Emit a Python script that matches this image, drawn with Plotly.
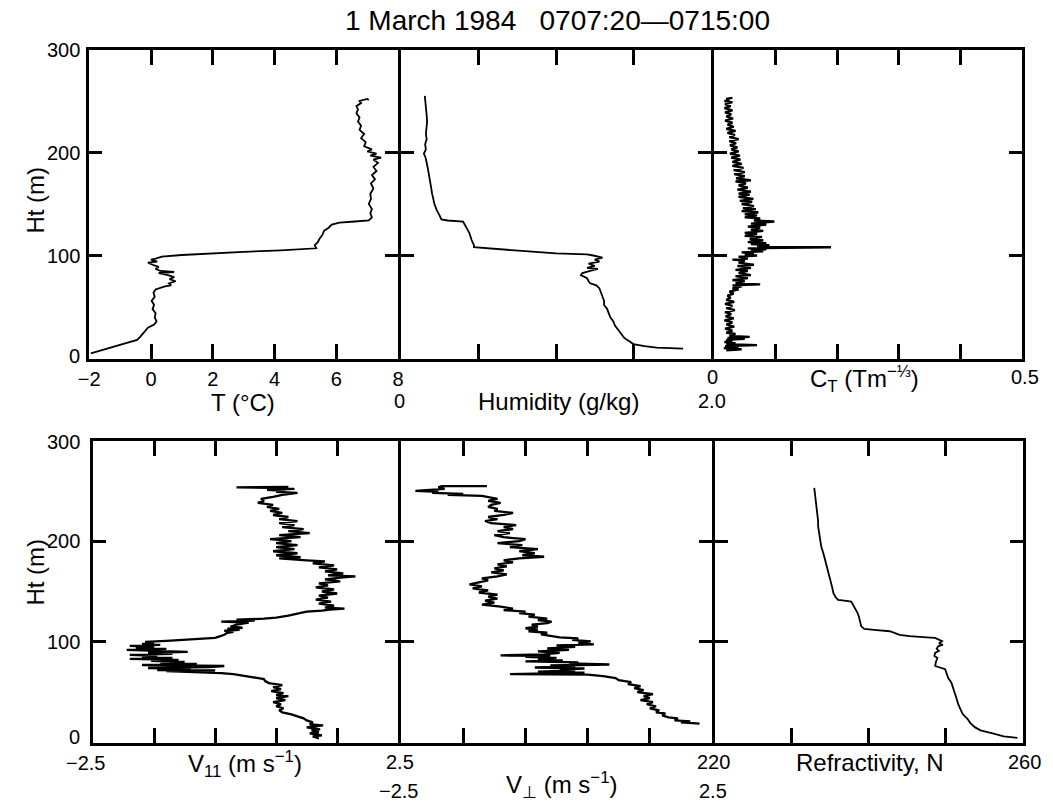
import plotly.graph_objects as go

TITLE = "1 March 1984\u00a0\u00a0\u00a00707:20\u20140715:00"
FONT = "Liberation Sans, Arial, Helvetica, sans-serif"

# ---------------- data ----------------
temp_ht = [5, 8, 11, 15, 18, 21, 25, 30, 33, 36,
           40, 44, 48, 52, 56, 60, 64, 67, 70, 71,
           73, 75, 77, 79, 81, 83, 84, 85, 87, 89,
           91, 93, 94, 96, 97, 99, 100.5, 102, 103.5, 105,
           106, 107, 110, 113, 116, 120, 124, 127, 130, 132,
           133, 134, 137, 141, 145, 150, 155, 160, 165, 170,
           174, 178, 182, 186, 190, 193, 195, 197, 199, 201,
           203, 206, 210, 214, 218, 222, 226, 230, 234, 238,
           242, 245, 248, 250, 252, 251]
temp_c = [-1.95, -1.6, -1.2, -0.8, -0.45, -0.35, -0.25, -0.1, 0.1, 0.18,
          0.12, 0.15, 0.05, 0.1, 0.02, 0.12, 0.08, 0.15, 0.45, 0.65,
          0.58, 0.8, 0.6, 0.75, 0.55, 0.25, 0.75, 0.3, 0.15, 0.25,
          0.05, -0.1, 0.2, 0.0, 0.15, 0.35, 1.0, 1.9, 3.0, 4.2,
          5.0, 5.35, 5.3, 5.4, 5.45, 5.55, 5.6, 5.75, 5.85, 6.1,
          6.6, 7.05, 7.15, 7.1, 7.15, 7.05, 7.12, 7.1, 7.2, 7.12,
          7.25, 7.15, 7.3, 7.2, 7.35, 7.2, 7.45, 7.1, 7.3, 7.0,
          7.15, 6.9, 6.95, 6.8, 6.9, 6.75, 6.8, 6.7, 6.75, 6.65,
          6.7, 6.65, 6.8, 6.75, 7.0, 7.05]

hum_ht = [9.6, 10.5, 12, 14, 17, 20, 24, 28, 32, 36,
          40, 44, 48, 52, 56, 60, 64, 68, 71, 73,
          75, 78, 81, 83, 85, 87, 88, 90, 92, 94,
          96, 98, 100, 101, 102, 103.5, 105, 106.5, 108, 110,
          115, 122, 128, 133, 134, 135, 140, 144, 150, 155,
          160, 165, 170, 175, 180, 185, 190, 195, 199, 203,
          208, 213, 218, 224, 230, 236, 242, 248, 252, 255]
hum_q = [1.82, 1.65, 1.57, 1.5, 1.47, 1.44, 1.42, 1.4, 1.38, 1.37,
         1.35, 1.34, 1.33, 1.31, 1.31, 1.3, 1.29, 1.28, 1.26, 1.22,
         1.21, 1.2, 1.16, 1.17, 1.22, 1.27, 1.2, 1.25, 1.21, 1.28,
         1.25, 1.3, 1.24, 1.2, 1.0, 0.85, 0.7, 0.55, 0.47, 0.47,
         0.455, 0.44, 0.42, 0.4, 0.3, 0.26, 0.245, 0.23, 0.215, 0.205,
         0.2, 0.195, 0.19, 0.185, 0.179, 0.172, 0.165, 0.158, 0.147, 0.16,
         0.155, 0.165, 0.16, 0.165, 0.168, 0.165, 0.16, 0.158, 0.155, 0.153]

ct_ht = [8, 9, 10, 11, 12, 13, 14, 15, 16, 17,
         18, 19, 20, 21, 22, 24, 25, 27, 29, 31,
         33, 35, 37, 39, 41, 43, 45, 47, 49, 51,
         53, 55, 57, 59, 61, 63, 65, 67, 68, 70,
         71, 72, 73, 75, 76, 78, 80, 81, 83, 85,
         86, 88, 90, 91, 93, 95, 96, 97, 99, 100,
         101, 102, 103, 104, 105, 106, 107, 108, 108.5, 110,
         111, 112, 113, 115, 116, 118, 119, 121, 122, 124,
         125, 127, 128, 130, 131, 133, 134, 136, 137, 139,
         140, 142, 143, 145, 146, 148, 150, 152, 153, 155,
         157, 159, 160, 162, 164, 166, 168, 170, 172, 173,
         175, 177, 179, 181, 183, 185, 187, 189, 191, 193,
         195, 197, 199, 201, 203, 205, 207, 209, 211, 213,
         215, 217, 219, 221, 223, 225, 227, 229, 231, 233,
         235, 237, 239, 241, 243, 245, 247, 249, 250, 251,
         252, 253]
ct_val = [0.02, 0.045, 0.016, 0.04, 0.018, 0.07, 0.02, 0.035, 0.017, 0.03,
          0.02, 0.05, 0.022, 0.058, 0.025, 0.035, 0.02, 0.03, 0.018, 0.033,
          0.02, 0.03, 0.017, 0.032, 0.019, 0.028, 0.018, 0.034, 0.02, 0.03,
          0.018, 0.033, 0.02, 0.027, 0.022, 0.032, 0.025, 0.04, 0.03, 0.045,
          0.03, 0.075, 0.035, 0.05, 0.03, 0.055, 0.035, 0.06, 0.04, 0.055,
          0.035, 0.06, 0.038, 0.065, 0.04, 0.05, 0.03, 0.055, 0.04, 0.07,
          0.05, 0.065, 0.045, 0.08, 0.06, 0.085, 0.055, 0.19, 0.07, 0.09,
          0.06, 0.085, 0.055, 0.08, 0.058, 0.078, 0.05, 0.07, 0.05, 0.08,
          0.06, 0.075, 0.055, 0.085, 0.06, 0.098, 0.065, 0.075, 0.05, 0.07,
          0.05, 0.072, 0.045, 0.068, 0.047, 0.065, 0.045, 0.062, 0.042, 0.064,
          0.04, 0.058, 0.04, 0.06, 0.038, 0.055, 0.04, 0.052, 0.035, 0.06,
          0.036, 0.05, 0.033, 0.05, 0.032, 0.048, 0.03, 0.045, 0.03, 0.043,
          0.028, 0.042, 0.026, 0.04, 0.028, 0.038, 0.026, 0.036, 0.025, 0.04,
          0.025, 0.034, 0.022, 0.035, 0.02, 0.032, 0.022, 0.03, 0.018, 0.031,
          0.02, 0.028, 0.018, 0.03, 0.017, 0.027, 0.018, 0.03, 0.017, 0.025,
          0.02, 0.03]

vpar_ht = [4, 6, 7, 9, 10, 12, 13, 15, 17, 18,
           20, 22, 24, 26, 28, 30, 32, 34, 36, 38,
           40, 42, 44, 46, 47, 49, 51, 53, 55, 57,
           59, 61, 63, 65, 66, 68, 69, 70, 71, 71.5,
           72, 73, 74, 75, 76, 76.5, 77, 78, 79, 80,
           81, 82, 83, 84, 85, 86, 87, 88, 89, 90,
           91, 92, 93, 94, 95, 96, 97, 98, 99, 100,
           101, 102, 103, 104, 105, 107, 109, 110, 111, 112,
           113, 114, 115, 117, 119, 120, 121, 122, 123, 124,
           126, 128, 130, 131, 132, 133, 134, 136, 138, 140,
           142, 144, 146, 148, 150, 152, 154, 156, 158, 160,
           162, 164, 165, 166, 168, 170, 172, 174, 176, 178,
           180, 181, 183, 184, 186, 188, 190, 192, 194, 196,
           198, 200, 202, 204, 206, 208, 210, 212, 214, 216,
           218, 220, 222, 224, 226, 228, 230, 232, 234, 236,
           238, 240, 242, 244, 246, 248, 249, 250, 251, 252,
           253, 253.5, 254]
vpar_v = [1.2, 1.1, 1.25, 1.05, 1.2, 1.08, 1.22, 1.0, 1.27, 1.05,
          1.1, 1.0, 0.95, 0.85, 0.75, 0.6, 0.55, 0.62, 0.5, 0.58,
          0.45, 0.65, 0.5, 0.7, 0.5, 0.62, 0.42, 0.58, 0.45, 0.6,
          0.38, 0.32, 0.3, 0.1, 0.0, -0.2, -0.4, -0.8, -1.3, -0.5,
          -1.45, -0.9, -1.6, -0.6, -0.35, -1.2, -1.7, -0.8, -1.4, -1.0,
          -1.55, -1.1, -1.9, -1.2, -1.7, -1.45, -1.9, -1.2, -1.6, -0.95,
          -1.5, -1.95, -1.3, -1.8, -1.5, -1.9, -1.4, -1.7, -1.5, -1.65,
          -1.3, -1.05, -0.8, -0.5, -0.45, -0.35, -0.3, -0.2, -0.35, -0.1,
          -0.3, -0.05, -0.25, -0.15, 0.05, -0.4, 0.15, -0.15, 0.3, 0.5,
          0.7, 0.85, 1.0, 1.25, 1.38, 1.62, 1.3, 1.45, 1.2, 1.4,
          1.15, 1.35, 1.2, 1.5, 1.25, 1.45, 1.15, 1.35, 1.2, 1.55,
          1.3, 1.6, 1.8, 1.35, 1.6, 1.3, 1.5, 1.2, 1.45, 1.1,
          1.3, 1.0, 0.55, 0.9, 0.5, 0.85, 0.45, 0.8, 0.5, 0.85,
          0.5, 0.75, 0.4, 0.9, 0.55, 1.05, 0.7, 0.95, 0.6, 0.8,
          0.55, 0.85, 0.55, 0.7, 0.45, 0.6, 0.4, 0.55, 0.35, 0.45,
          0.2, 0.3, 0.25, 0.45, 0.6, 0.85, 0.5, 0.65, 0.35, 0.8,
          0.4, -0.15, 0.7]

vperp_ht = [18.7, 20, 21, 22, 24, 25, 27, 29, 30, 32,
            34, 36, 38, 40, 42, 44, 46, 48, 50, 52,
            54, 56, 58, 60, 62, 64, 66, 67.5, 68, 68.5,
            69.5, 70.5, 71.5, 72.5, 73.5, 74.5, 75.5, 76.5, 77.5, 78.5,
            79.5, 80.5, 81.5, 82.5, 84, 85, 86, 86.5, 87.5, 89,
            90.5, 92, 93.5, 95, 96.5, 97.5, 99, 100.5, 102, 103.5,
            104.5, 106, 107.5, 109, 110.5, 112, 113.5, 115, 117, 118.5,
            120, 121.5, 123, 125, 127, 128.5, 130, 131.5, 133, 135,
            137, 139, 141, 143, 145, 147, 149, 151, 153, 155,
            157, 159, 161, 163, 165, 167, 169, 171, 173, 175,
            177, 179, 181, 183, 184.5, 186, 188, 190, 192, 194,
            196, 198, 200, 202, 204, 206, 208, 210, 212, 214,
            216, 218, 220, 222, 224, 226, 228, 230, 232, 234,
            236, 238, 240, 242, 244, 245, 246, 247, 248, 249,
            250, 251, 252, 253.5, 254.7, 254.7]
vperp_v = [2.3, 2.0, 2.15, 1.9, 1.95, 1.8, 1.7, 1.75, 1.6, 1.65,
           1.5, 1.6, 1.45, 1.55, 1.35, 1.5, 1.4, 1.55, 1.3, 1.4,
           1.25, 1.35, 1.15, 1.2, 1.0, 0.95, 0.75, 0.5, -0.75, 0.0,
           0.45, -0.3, 0.3, 0.05, 0.45, -0.35, 0.3, -0.1, 0.85, 0.2,
           0.35, -0.5, 0.1, -0.3, 0.0, -0.5, -0.1, -0.9, -0.2, 0.05,
           -0.3, 0.2, -0.15, 0.3, 0.0, 0.6, 0.35, 0.55, 0.25, 0.35,
           0.05, -0.1, -0.25, -0.15, -0.45, -0.3, -0.5, -0.3, -0.4, -0.15,
           -0.08, -0.3, -0.15, -0.45, -0.35, -0.6, -0.5, -0.85, -0.7, -0.9,
           -1.2, -1.0, -1.15, -0.95, -1.1, -0.95, -1.25, -1.1, -1.35, -1.2,
           -1.4, -1.25, -1.1, -1.2, -0.95, -0.8, -1.05, -0.85, -1.0, -0.8,
           -0.95, -0.7, -0.85, -0.6, -0.2, -0.55, -0.35, -0.6, -0.3, -0.75,
           -0.55, -0.95, -0.6, -0.5, -0.85, -1.0, -0.75, -0.95, -0.7, -0.85,
           -0.65, -1.05, -1.15, -0.95, -1.1, -0.85, -0.7, -1.0, -0.95, -1.1,
           -1.05, -0.9, -1.1, -0.95, -1.1, -1.2, -1.75, -1.5, -2.0, -1.9,
           -2.27, -2.0, -1.8, -1.9, -1.85, -1.12]

ref_ht = [4.6, 6, 8.8, 10.5, 12.1, 15, 19, 23.6, 28, 33,
          38, 43.3, 48, 53, 59.6, 64, 68, 72.8, 76, 80,
          84, 86, 89, 91, 93, 95.7, 97, 98.5, 100.7, 102.5,
          103.9, 104.5, 105.6, 107, 108.5, 110.5, 111.7, 112.8, 115.4, 120,
          125, 129, 131.8, 135, 138, 140, 141, 141.6, 144, 148.2,
          155, 161.3, 168, 174.4, 181, 187.5, 195, 203.9, 210, 215,
          220, 226.8, 235, 242, 248, 253]
ref_n = [259.3, 257.5, 256.2, 255.2, 254.5, 253.8, 253.2, 252.8, 252.2, 251.9,
         251.6, 251.4, 251.2, 250.9, 250.7, 250.3, 250.1, 249.9, 248.6, 248.7,
         248.9, 248.5, 248.6, 249.1, 248.8, 249.0, 249.6, 249.1, 249.5, 249.0,
         248.6, 247.5, 245.3, 244.0, 243.3, 242.7, 241.0, 239.4, 239.0, 238.9,
         238.7, 238.5, 238.3, 238.1, 237.9, 237.7, 236.8, 236.0, 235.7, 235.4,
         235.2, 235.0, 234.7, 234.5, 234.3, 234.1, 233.8, 233.6, 233.5, 233.4,
         233.4, 233.3, 233.2, 233.0, 233.0, 232.9]

y_ticks = [0, 100, 200, 300]
t_ticks = [-2, 0, 2, 4, 6, 8]
t_labels = ["\u22122", "0", "2", "4", "6", "8"]
hum_ticks = [0, 0.5, 1.0, 1.5, 2.0]
ct_ticks = [0, 0.1, 0.2, 0.3, 0.4, 0.5]
v_ticks = [-2.5, -1.5, -0.5, 0.5, 1.5, 2.5]
ref_ticks = [220, 230, 240, 250, 260]

# ---------------- layout helpers ----------------
W, H = 1053, 802
LW = 3  # frame line width; plotly draws axis lines half a width outside the domain
TICK_FS = 20
TITLE_FS = 24


def fx(p):
    return p / W


def fy(p):
    return 1 - p / H


# frame line centres (pixels)
TOP = (48, 360)
BOT = (439, 744)
TOP_X = [78, 395, 713, 1029]
BOT_X = [82, 395, 714, 1030]

panels = [
    # values, heights, x-range, frame x-pixels, frame y-pixels, tickvals, native labels, noisy
    (temp_c, temp_ht, [-2, 8], (TOP_X[0], TOP_X[1]), TOP, t_ticks, True, False),
    (hum_q, hum_ht, [0, 2], (TOP_X[1], TOP_X[2]), TOP, hum_ticks, False, False),
    (ct_val, ct_ht, [0, 0.5], (TOP_X[2], TOP_X[3]), TOP, ct_ticks, False, True),
    (vpar_v, vpar_ht, [-2.5, 2.5], (BOT_X[0], BOT_X[1]), BOT, v_ticks, False, True),
    (vperp_v, vperp_ht, [-2.5, 2.5], (BOT_X[1], BOT_X[2]), BOT, v_ticks, False, True),
    (ref_n, ref_ht, [220, 260], (BOT_X[2], BOT_X[3]), BOT, ref_ticks, False, False),
]

fig = go.Figure()
axis_common = dict(
    showline=True, linecolor="black", linewidth=LW, mirror="ticks",
    ticks="inside", tickcolor="black", tickwidth=2.5,
    showgrid=False, zeroline=False, fixedrange=True,
    tickfont=dict(family=FONT, size=TICK_FS, color="black"),
)

h = LW / 2
layout_axes = {}
for i, (xv, yv, xr, (x0, x1), (y0, y1), tv, native, noisy) in enumerate(panels):
    n = "" if i == 0 else str(i + 1)
    fig.add_trace(go.Scatter(
        x=xv, y=yv, mode="lines", xaxis="x" + n, yaxis="y" + n,
        line=dict(color="black", width=2.3 if noisy else 1.8),
        showlegend=False, hoverinfo="skip"))
    xa = dict(axis_common, domain=[fx(x0 + h), fx(x1 - h)], anchor="y" + n,
              range=xr, tickvals=tv, ticklen=15, showticklabels=native)
    if native:
        xa["ticktext"] = t_labels
    layout_axes["xaxis" + n] = xa
    layout_axes["yaxis" + n] = dict(
        axis_common, domain=[fy(y1 - h), fy(y0 + h)], anchor="x" + n,
        range=[0, 300], tickvals=y_ticks, ticklen=13, showticklabels=False)

fig.update_layout(**layout_axes)


def ann(text, x, y, size=TITLE_FS, angle=0, xanchor="center"):
    return dict(text=text, x=fx(x), y=fy(y), xref="paper", yref="paper",
                showarrow=False, xanchor=xanchor, yanchor="middle",
                textangle=angle, font=dict(family=FONT, size=size, color="black"))


annotations = [
    ann(TITLE, 555, 21, size=28),
    ann("Ht (m)", 24, 200, angle=-90),
    ann("Ht (m)", 24, 572, angle=-90),
    # top row, first line
    ann("0", TOP_X[2], 377, size=TICK_FS),
    ann("C<sub>T</sub> (Tm<sup>\u2212\u2153</sup>)", 868, 379),
    ann("0.5", 1031, 377, size=TICK_FS),
    # top row, second line
    ann("T (\u00b0C)", 236, 403),
    ann("0", TOP_X[1], 401, size=TICK_FS),
    ann("Humidity (g/kg)", 556, 401),
    ann("2.0", TOP_X[2], 401, size=TICK_FS),
    # bottom row, first line
    ann("\u22122.5", 76, 763, size=TICK_FS),
    ann("V<sub>11</sub> (m s<sup>\u22121</sup>)", 238, 764),
    ann("2.5", BOT_X[1], 762, size=TICK_FS),
    ann("220", BOT_X[2], 762, size=TICK_FS),
    ann("Refractivity, N", 873, 762),
    ann("260", BOT_X[3], 762, size=TICK_FS),
    # bottom row, second line
    ann("\u22122.5", 394, 791, size=TICK_FS),
    ann("V<sub>\u22a5</sub> (m s<sup>\u22121</sup>)", 560, 785),
    ann("2.5", BOT_X[2], 791, size=TICK_FS),
]

# height tick labels, placed at their data values on the left-hand panels
for yref, shifts in (("y", (3, 0, 0, 0)), ("y4", (6, 0, 0, -1))):
    for v, s in zip(y_ticks, shifts):
        annotations.append(dict(
            text=str(v), x=fx(72), y=v, xref="paper", yref=yref, yshift=s,
            showarrow=False, xanchor="right", yanchor="middle",
            font=dict(family=FONT, size=TICK_FS, color="black")))

fig.update_layout(
    width=W, height=H, autosize=False,
    margin=dict(l=0, r=0, t=0, b=0),
    paper_bgcolor="white", plot_bgcolor="white",
    annotations=annotations,
    font=dict(family=FONT, color="black"),
)

fig.write_html("out.html")
